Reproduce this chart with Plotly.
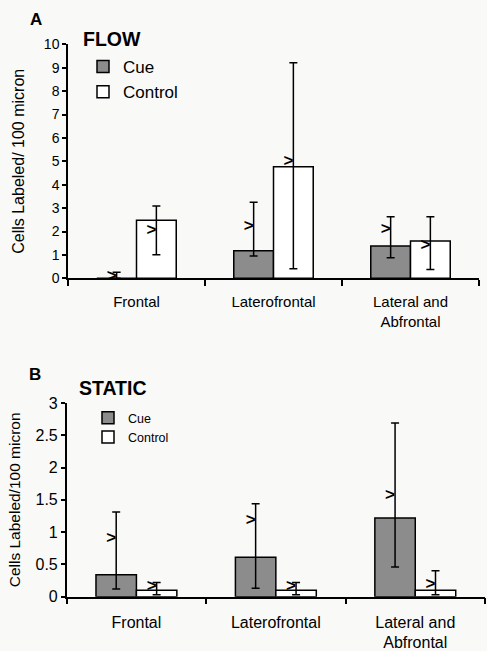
import plotly.graph_objects as go

categories = ["Frontal", "Laterofrontal", "Lateral and<br>Abfrontal"]
positions = [0, 1, 2]
boundaries = [-0.5, 0.5, 1.5, 2.5]

# Panel A - FLOW
flow_cue = [0.0, 1.18, 1.38]
flow_cue_hi = [0.26, 3.25, 2.63]
flow_cue_lo = [0.0, 0.95, 0.88]
flow_cue_med = [0.07, 2.19, 2.06]
flow_ctrl = [2.48, 4.77, 1.59]
flow_ctrl_hi = [3.09, 9.21, 2.63]
flow_ctrl_lo = [1.01, 0.41, 0.38]
flow_ctrl_med = [2.03, 4.96, 1.38]

# Panel B - STATIC
static_cue = [0.34, 0.61, 1.22]
static_cue_hi = [1.31, 1.44, 2.69]
static_cue_lo = [0.12, 0.13, 0.46]
static_cue_med = [0.90, 1.17, 1.56]
static_ctrl = [0.10, 0.10, 0.10]
static_ctrl_hi = [0.22, 0.22, 0.40]
static_ctrl_lo = [0.03, 0.03, 0.03]
static_ctrl_med = [0.155, 0.16, 0.19]

W = 0.29
FONT = "Arial, Liberation Sans, sans-serif"
GRAY = "#8c8c8c"
BG = "#f9f9f8"

fig = go.Figure()


def add_panel(cue, cue_hi, cue_lo, cue_med, ctrl, ctrl_hi, ctrl_lo, ctrl_med,
              xa, ya, legend, medsize):
    for name, vals, hi, lo, med, color, off in [
        ("Cue", cue, cue_hi, cue_lo, cue_med, GRAY, -W),
        ("Control", ctrl, ctrl_hi, ctrl_lo, ctrl_med, "white", 0.0),
    ]:
        fig.add_trace(go.Bar(
            x=positions, y=vals, width=W, offset=off, name=name,
            marker=dict(color=color, line=dict(color="black", width=1.5)),
            error_y=dict(type="data", symmetric=False,
                         array=[h - v for h, v in zip(hi, vals)],
                         arrayminus=[v - l for v, l in zip(vals, lo)],
                         color="black", thickness=1.5, width=4),
            xaxis=xa, yaxis=ya, legend=legend, legendgroup=legend + name,
        ))
        fig.add_trace(go.Scatter(
            x=[p + off + W / 2 for p in positions], y=med, mode="text",
            text=["<b>></b>"] * 3, textposition="middle left",
            textfont=dict(family=FONT, size=medsize, color="black"),
            xaxis=xa, yaxis=ya, showlegend=False, hoverinfo="skip",
        ))


add_panel(flow_cue, flow_cue_hi, flow_cue_lo, flow_cue_med,
          flow_ctrl, flow_ctrl_hi, flow_ctrl_lo, flow_ctrl_med,
          "x", "y", "legend", 17)
add_panel(static_cue, static_cue_hi, static_cue_lo, static_cue_med,
          static_ctrl, static_ctrl_hi, static_ctrl_lo, static_ctrl_med,
          "x2", "y2", "legend2", 17)

H, Wd = 651, 487


def px(xp):
    return xp / Wd


def py(yp):
    return 1 - yp / H


xcommon = dict(range=[-0.5, 2.5], tickvals=positions, ticktext=categories,
               ticks="", showline=True, linecolor="black", linewidth=1.5,
               showgrid=False, zeroline=False, automargin=False,
               minor=dict(tickmode="array", tickvals=boundaries, ticks="outside",
                          ticklen=6, tickcolor="black", tickwidth=1.5,
                          showgrid=False))
ycommon = dict(showline=True, linecolor="black", linewidth=1.5, ticks="outside",
               ticklen=4, tickcolor="black", tickwidth=1.5, showgrid=False,
               zeroline=False, automargin=False)

fig.update_layout(
    width=487, height=651,
    margin=dict(l=0, r=0, t=0, b=0),
    paper_bgcolor=BG, plot_bgcolor=BG,
    barmode="overlay",
    font=dict(family=FONT, color="black"),
    xaxis=dict(domain=[px(68), px(479)], anchor="y", ticklabelstandoff=9,
               tickfont=dict(family=FONT, size=15, color="black"), **xcommon),
    yaxis=dict(domain=[py(278.3), py(44.3)], anchor="x", range=[0, 10], dtick=1,
               tickfont=dict(size=14),
               title=dict(text="Cells Labeled/ 100 micron", font=dict(size=16),
                          standoff=15),
               **ycommon),
    xaxis2=dict(domain=[px(66.7), px(485)], anchor="y2", ticklabelstandoff=10,
                tickfont=dict(family=FONT, size=16, color="black"), **xcommon),
    yaxis2=dict(domain=[py(596.7), py(403)], anchor="x2", range=[0, 3], dtick=0.5,
                tickfont=dict(size=16),
                title=dict(text="Cells Labeled/100 micron", font=dict(size=15.5),
                           standoff=11),
                **ycommon),
    legend=dict(x=px(83), y=py(49), xanchor="left", yanchor="top",
                font=dict(size=17), bgcolor="rgba(0,0,0,0)",
                traceorder="grouped", tracegroupgap=0),
    legend2=dict(x=px(88), y=py(403), xanchor="left", yanchor="top",
                 font=dict(size=12.5), bgcolor="rgba(0,0,0,0)",
                 traceorder="grouped", tracegroupgap=0),
    annotations=[
        dict(text="<b>A</b>", x=px(36), y=py(19.5), xref="paper", yref="paper",
             xanchor="center", yanchor="middle", showarrow=False,
             font=dict(size=17)),
        dict(text="<b>FLOW</b>", x=px(111.5), y=py(38.7), xref="paper", yref="paper",
             xanchor="center", yanchor="middle", showarrow=False,
             font=dict(size=19.5)),
        dict(text="<b>B</b>", x=px(34.5), y=py(375), xref="paper", yref="paper",
             xanchor="center", yanchor="middle", showarrow=False,
             font=dict(size=17)),
        dict(text="<b>STATIC</b>", x=px(112.5), y=py(388), xref="paper", yref="paper",
             xanchor="center", yanchor="middle", showarrow=False,
             font=dict(size=19.5)),
    ],
)

fig.write_html("out.html", config={"displayModeBar": False},
               post_script="document.body.style.margin='0';"
                           "document.body.style.overflow='hidden';")
